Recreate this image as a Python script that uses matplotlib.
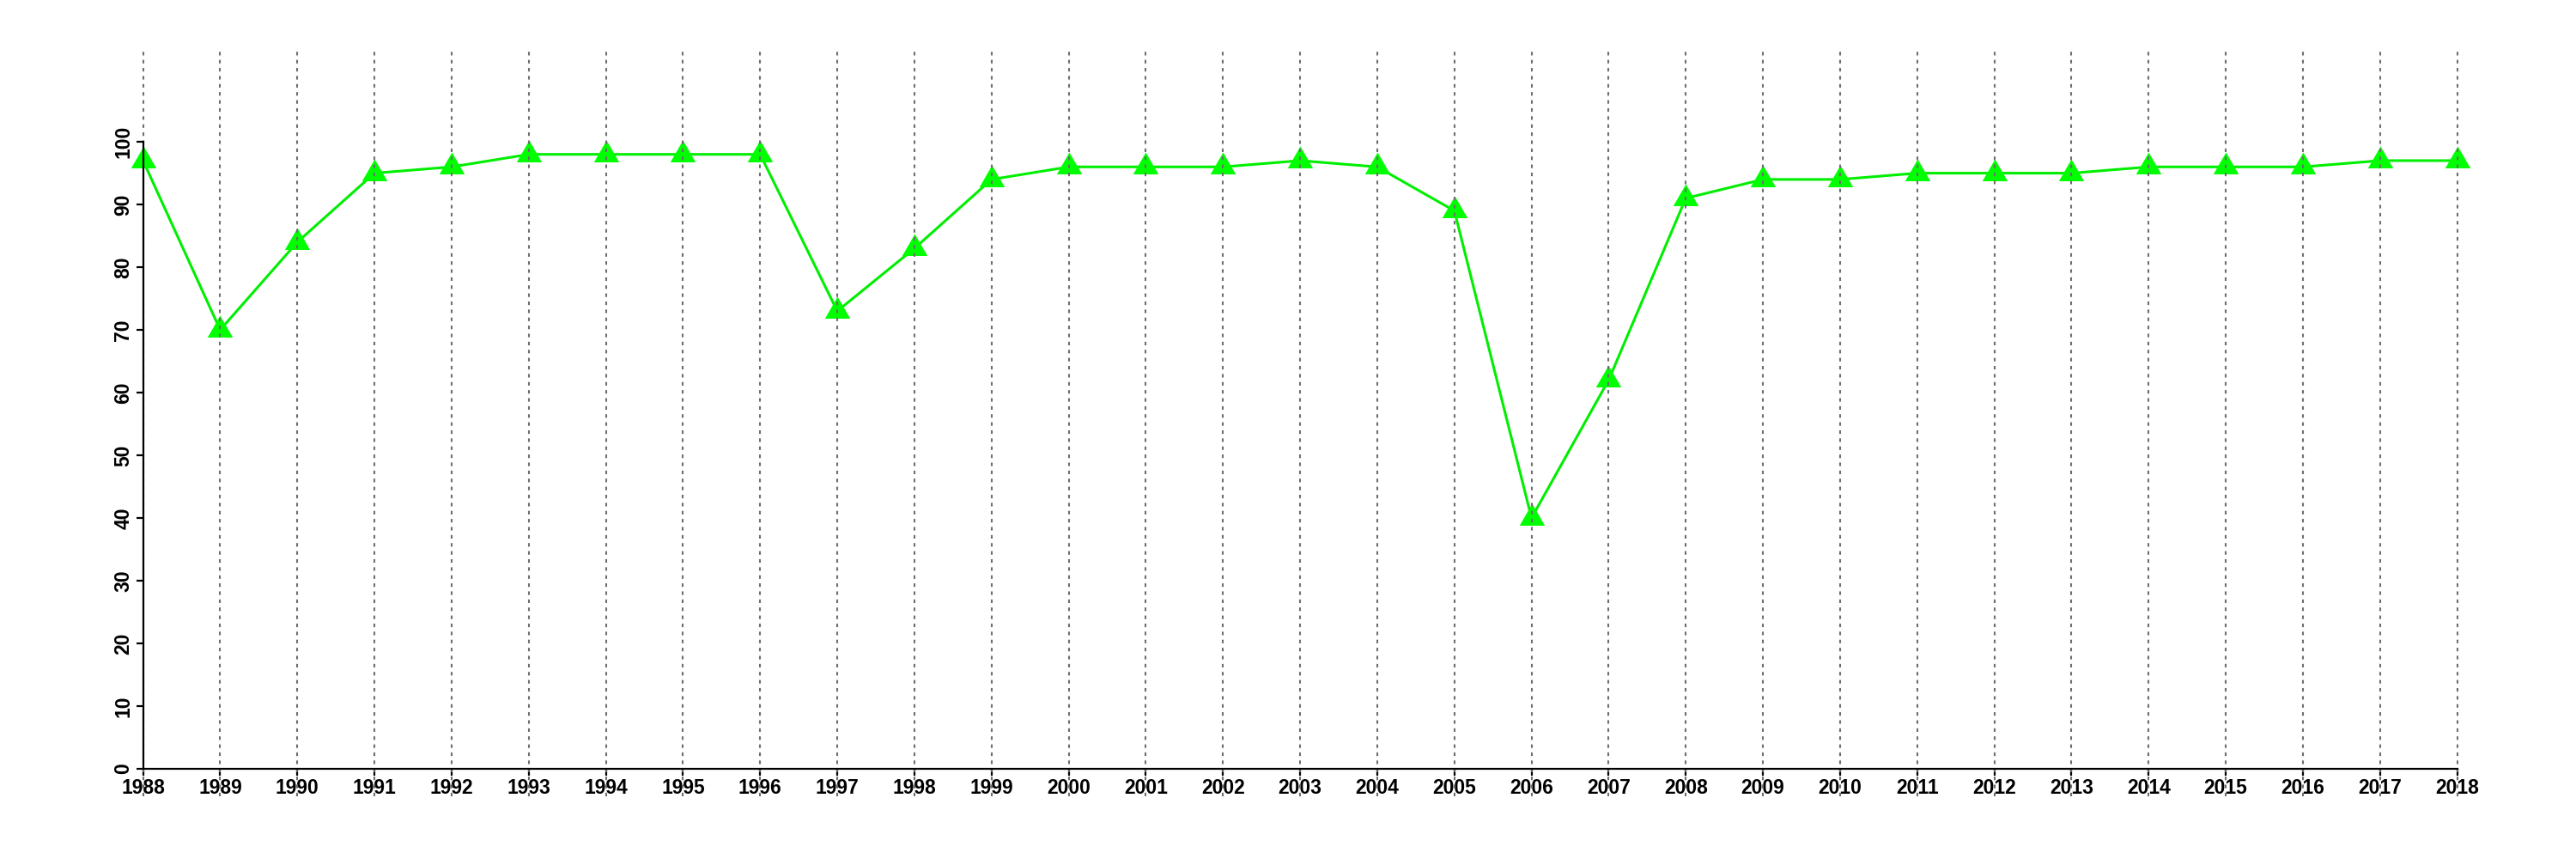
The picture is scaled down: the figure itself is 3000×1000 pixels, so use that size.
import matplotlib
matplotlib.use("Agg")
import matplotlib.pyplot as plt
import numpy as np

years = list(range(1988, 2019))
values = [97, 70, 84, 95, 96, 98, 98, 98, 98, 73, 83, 94, 96, 96, 96, 97, 96, 89,
          40, 62, 91, 94, 94, 95, 95, 95, 96, 96, 96, 97, 97]
y_ticks = list(range(0, 101, 10))

plt.rcParams['font.family'] = ['Liberation Sans', 'DejaVu Sans']

fig = plt.figure(figsize=(30, 10), dpi=100)
ax = fig.add_axes([0.0196, 0.073, 0.9702, 0.867])

tri = [(-1, -0.577), (1, -0.577), (0, 1.155)]
ax.plot(years, values, color='#00ee00', linewidth=2.2, zorder=3)
ax.plot(years, values, linestyle='none', marker=tri, markersize=24.5,
        markerfacecolor='#00ff00', markeredgewidth=0, zorder=4)

for yr in years:
    ax.axvline(yr, color='#6e6e6e', linewidth=1.5, dashes=(2.0, 2.5), zorder=6)

ax.set_xlim(1986.8, 2019.2)
ax.set_ylim(-4.4, 114.4)

for s in ['top', 'right']:
    ax.spines[s].set_visible(False)
ax.spines['left'].set_bounds(0, 100)
ax.spines['bottom'].set_bounds(1988, 2018)
ax.spines['left'].set_position(('data', 1988))
ax.spines['bottom'].set_position(('data', 0))
for s in ['left', 'bottom']:
    ax.spines[s].set_linewidth(1.6)
    ax.spines[s].set_zorder(7)

ax.set_xticks(years)
ax.set_xticklabels([str(y) for y in years], fontsize=16.5, fontweight='bold')
ax.set_yticks(y_ticks)
ax.set_yticklabels([str(v) for v in y_ticks], fontsize=16.5, fontweight='bold',
                   rotation=90, va='center')
ax.tick_params(axis='both', length=6, width=1.6, pad=2, color='black')

fig.savefig('out.png', dpi=100)
